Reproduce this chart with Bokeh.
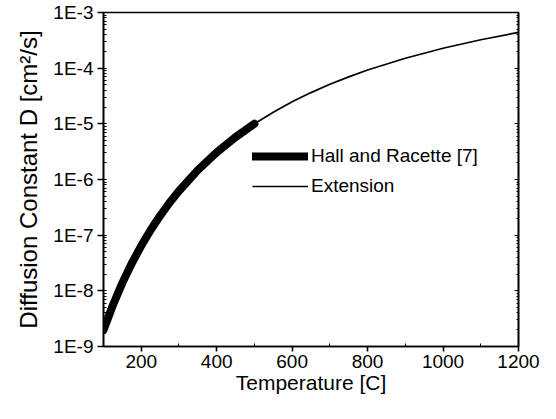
from bokeh.plotting import figure
from bokeh.models import FixedTicker, LogTicker, LogAxis, CustomJSTickFormatter, Legend, LegendItem
from bokeh.embed import file_html
from bokeh.resources import INLINE

# Hall and Racette data range (thick line)
hr_temp = [100, 125, 150, 175, 200, 225, 250, 275, 300, 350, 400, 450, 500]
hr_D = [1.98e-9, 5.57e-9, 1.39e-8, 3.13e-8, 6.44e-8, 1.24e-7, 2.23e-7, 3.82e-7,
        6.22e-7, 1.47e-6, 3.07e-6, 5.77e-6, 1.0e-5]
# Extension (thin line)
ext_temp = [500, 550, 600, 650, 700, 750, 800, 900, 1000, 1100, 1200]
ext_D = [1.0e-5, 1.62e-5, 2.49e-5, 3.64e-5, 5.13e-5, 6.98e-5, 9.25e-5,
         1.51e-4, 2.28e-4, 3.24e-4, 4.39e-4]

x_major = [200, 400, 600, 800, 1000, 1200]
x_minor = [100, 300, 500, 700, 900, 1100]

FONT = "Liberation Sans"

p = figure(width=540, height=403, output_backend="svg", toolbar_location=None,
           y_axis_type="log", x_range=(100, 1200), y_range=(1e-9, 1e-3),
           min_border_left=103, min_border_right=22, min_border_top=12, min_border_bottom=57)
p.background_fill_color = "white"
p.border_fill_color = "white"
p.outline_line_color = "black"
p.outline_line_width = 1.6
p.grid.visible = False

r1 = p.line(hr_temp, hr_D, line_width=8, line_color="black", line_cap="round")
r2 = p.line(ext_temp, ext_D, line_width=1.7, line_color="black")

p.xaxis.ticker = FixedTicker(ticks=x_major, minor_ticks=x_minor)
p.yaxis.ticker = LogTicker(num_minor_ticks=10)
p.yaxis.formatter = CustomJSTickFormatter(code='return "1E" + Math.round(Math.log10(tick));')

for ax in (p.xaxis[0], p.yaxis[0]):
    ax.axis_line_color = "black"
    ax.axis_line_width = 1.6
    ax.major_tick_line_color = "black"
    ax.major_tick_line_width = 1.6
    ax.minor_tick_line_color = "black"
    ax.minor_tick_line_width = 1
    ax.major_tick_in = 0
    ax.minor_tick_out = 0
    ax.minor_tick_in = 3
    ax.major_label_text_font = FONT
    ax.major_label_text_font_size = "19px"
    ax.major_label_text_color = "black"
    ax.axis_label_text_font = FONT
    ax.axis_label_text_font_style = "normal"
    ax.axis_label_text_color = "black"

p.xaxis.major_tick_out = 5
p.yaxis.major_tick_out = 6
p.xaxis.axis_label = "Temperature [C]"
p.yaxis.axis_label = "Diffusion Constant D [cm²/s]"
p.xaxis.axis_label_text_font_size = "21px"
p.yaxis.axis_label_text_font_size = "24px"
p.xaxis.major_label_standoff = 3
p.yaxis.major_label_standoff = 4
p.xaxis.axis_label_standoff = 0
p.yaxis.axis_label_standoff = 8

# right-hand frame axis with inward minor ticks, labels hidden
rax = LogAxis(ticker=LogTicker(num_minor_ticks=10), major_label_text_font_size="1px",
              major_label_text_alpha=0, major_label_standoff=0, major_tick_out=0,
              major_tick_in=4, minor_tick_out=0, minor_tick_in=2, axis_line_color="black",
              axis_line_width=1.6, major_tick_line_color="black",
              minor_tick_line_color="black")
p.add_layout(rax, "right")

legend = Legend(items=[LegendItem(label="Hall and Racette [7]", renderers=[r1]),
                       LegendItem(label="Extension", renderers=[r2])],
                location=(149, 149), padding=0, margin=0, spacing=8,
                glyph_width=56, glyph_height=20, label_height=20, label_standoff=3,
                label_text_font=FONT, label_text_font_size="19px",
                label_text_color="black",
                border_line_color=None, background_fill_alpha=0)
p.add_layout(legend)

open("out.html", "w").write(file_html(p, INLINE))
